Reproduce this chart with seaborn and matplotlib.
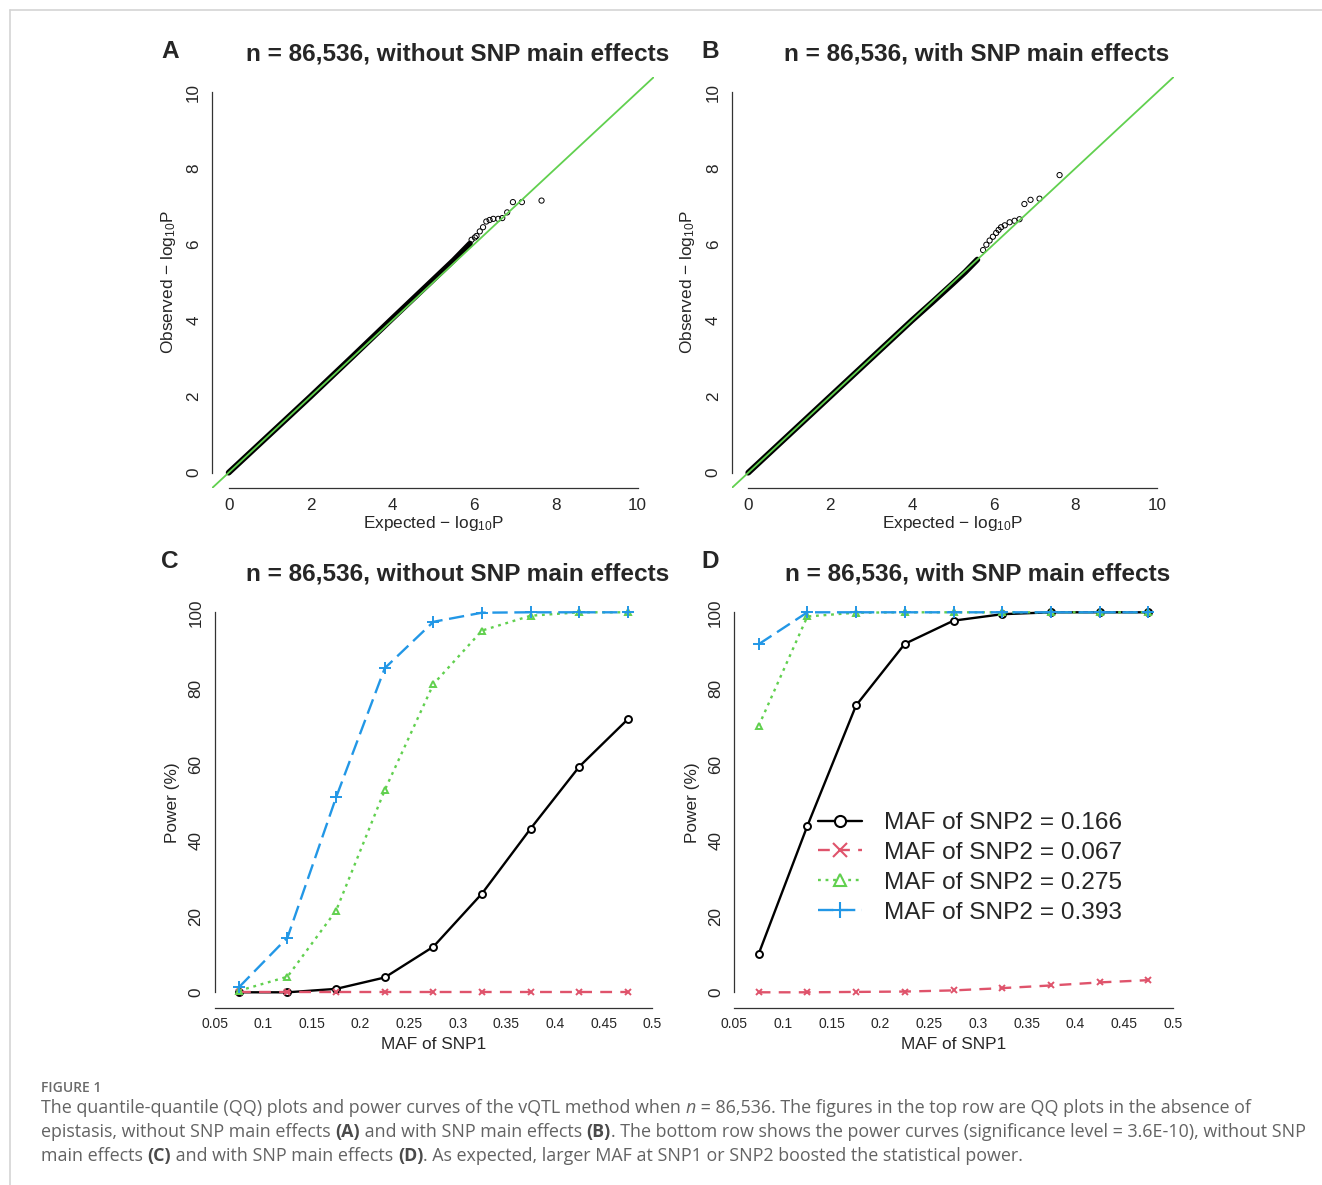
"""
plot.py
-------
QQ plots (A, B) and power curves (C, D) for the vQTL method, n = 86,536.
"""

import matplotlib
matplotlib.use("Agg")
import matplotlib.pyplot as plt
from matplotlib.lines import Line2D
from matplotlib.font_manager import FontProperties
import seaborn as sns

# ── Data ────────────────────────────────────────────────────────
# QQ plot A: dense body of the point cloud, then the sparse upper tail
qq_a_exp = [0.0, 1.0, 2.0, 3.0, 4.0, 4.5, 5.0, 5.5, 5.9]
qq_a_obs = [0.0, 1.0, 2.0, 3.02, 4.05, 4.56, 5.07, 5.58, 6.02]
qq_a_tail_exp = [5.94, 6.02, 6.06, 6.14, 6.22, 6.30, 6.38, 6.47, 6.59, 6.69, 6.81, 6.95, 7.17, 7.65]
qq_a_tail_obs = [6.12, 6.18, 6.22, 6.34, 6.45, 6.60, 6.64, 6.67, 6.67, 6.69, 6.84, 7.11, 7.11, 7.15]

# QQ plot B
qq_b_exp = [0.0, 1.0, 2.0, 3.0, 4.0, 4.5, 5.0, 5.3, 5.6]
qq_b_obs = [0.0, 1.0, 2.0, 3.0, 4.0, 4.48, 4.97, 5.27, 5.6]
qq_b_tail_exp = [5.74, 5.82, 5.90, 5.98, 6.06, 6.12, 6.18, 6.27, 6.39, 6.51, 6.63, 6.75, 6.90, 7.12, 7.61]
qq_b_tail_obs = [5.85, 5.99, 6.10, 6.20, 6.30, 6.38, 6.45, 6.50, 6.58, 6.62, 6.66, 7.06, 7.17, 7.20, 7.82]

# Power curves
maf_snp1 = [0.075, 0.125, 0.175, 0.225, 0.275, 0.325, 0.375, 0.425, 0.475]
snp2_labels = ["MAF of SNP2 = 0.166", "MAF of SNP2 = 0.067",
               "MAF of SNP2 = 0.275", "MAF of SNP2 = 0.393"]

power_c_166 = [0.0, 0.0, 0.9, 3.9, 12.0, 26.0, 43.1, 59.4, 71.9]
power_c_067 = [0.0, 0.0, 0.0, 0.0, 0.0, 0.0, 0.0, 0.0, 0.0]
power_c_275 = [0.4, 4.1, 21.5, 53.2, 81.1, 95.2, 99.1, 100.0, 100.0]
power_c_393 = [1.3, 14.4, 51.3, 85.3, 97.5, 99.9, 100.0, 100.0, 100.0]

power_d_166 = [10.1, 43.8, 75.5, 91.7, 97.8, 99.5, 100.0, 100.0, 100.0]
power_d_067 = [0.0, 0.0, 0.1, 0.2, 0.5, 1.1, 1.8, 2.6, 3.2]
power_d_275 = [70.1, 98.9, 99.9, 100.0, 100.0, 100.0, 100.0, 100.0, 100.0]
power_d_393 = [91.6, 100.0, 100.0, 100.0, 100.0, 100.0, 100.0, 100.0, 100.0]

maf_ticks = [0.05, 0.1, 0.15, 0.2, 0.25, 0.3, 0.35, 0.4, 0.45, 0.5]
maf_tick_labels = ["0.05", "0.1", "0.15", "0.2", "0.25", "0.3", "0.35", "0.4", "0.45", "0.5"]

# ── Style ───────────────────────────────────────────────────────
sns.set_style("white")
plt.rcParams["font.family"] = ["Liberation Sans", "DejaVu Sans"]
plt.rcParams["mathtext.fontset"] = "custom"
plt.rcParams["mathtext.rm"] = "Liberation Sans"
plt.rcParams["mathtext.default"] = "regular"

W, H = 1322, 1185
fig = plt.figure(figsize=(W / 100, H / 100), dpi=100)
fig.patch.set_facecolor("white")

AX_COL = "#333333"
COLORS = ["black", "#DF536B", "#61D04F", "#2297E6"]
MARKERS = ["o", "x", "^", "+"]
LINESTYLES = ["-", (0, (5, 3.5)), (0, (1.2, 2.0)), (0, (6.5, 2.8))]


def add_axes(left, right, top, bottom):
    return fig.add_axes([left / W, 1 - bottom / H, (right - left) / W, (bottom - top) / H])


def style_axes(ax, xb, yb, xfs, yfs):
    for s in ["top", "right"]:
        ax.spines[s].set_visible(False)
    for s in ["left", "bottom"]:
        ax.spines[s].set_color(AX_COL)
        ax.spines[s].set_linewidth(0.9)
    ax.spines["bottom"].set_bounds(*xb)
    ax.spines["left"].set_bounds(*yb)
    ax.tick_params(axis="both", direction="out", length=4.5, width=0.9, color=AX_COL)
    ax.tick_params(axis="x", labelsize=xfs, pad=2.5)
    ax.tick_params(axis="y", labelsize=yfs, pad=3.5, labelrotation=90)
    for lab in ax.get_yticklabels():
        lab.set_va("center")


# ── QQ plots (A, B) ─────────────────────────────────────────────
qq_sets = [
    (212.3, 654.0, qq_a_exp, qq_a_obs, qq_a_tail_exp, qq_a_tail_obs),
    (731.9, 1173.7, qq_b_exp, qq_b_obs, qq_b_tail_exp, qq_b_tail_obs),
]
for left, right, bx, by, tx, ty in qq_sets:
    ax = add_axes(left, right, 76.9, 487.9)
    sns.lineplot(x=bx, y=by, ax=ax, color="black", lw=4.2, sort=False,
                 solid_capstyle="round")
    sns.scatterplot(x=tx, y=ty, ax=ax, marker="o", s=14, facecolor="none",
                    edgecolor="black", linewidth=0.7)
    ax.axline((0, 0), slope=1, color="#61D04F", lw=1.3, zorder=5)
    ax.set_xlim(-0.4, 10.4)
    ax.set_ylim(-0.4, 10.4)
    ax.set_xticks(range(0, 11, 2))
    ax.set_yticks(range(0, 11, 2))
    style_axes(ax, (0, 10), (0, 10), 12.3, 12.3)
    ax.set_xlabel("Expected − log$_{10}$P", fontsize=12.4, labelpad=1)
    ax.set_ylabel("Observed − log$_{10}$P", fontsize=12.4, labelpad=6)

# ── Power curves (C, D) ─────────────────────────────────────────
power_sets = [
    (214.5, 652.3, [power_c_166, power_c_067, power_c_275, power_c_393]),
    (734.3, 1172.7, [power_d_166, power_d_067, power_d_275, power_d_393]),
]
for left, right, series in power_sets:
    ax = add_axes(left, right, 597.1, 1007.5)
    for vals, col, mk, ls in zip(series, COLORS, MARKERS, LINESTYLES):
        face = "white" if mk in ("o", "^") else col
        sns.lineplot(x=maf_snp1, y=vals, ax=ax, color=col, lw=1.7, linestyle=ls,
                     marker=mk, markersize=5 if mk != "+" else 8,
                     markerfacecolor=face, markeredgecolor=col, markeredgewidth=1.4)
    ax.set_xlim(0.05, 0.5)
    ax.set_ylim(-4, 104)
    ax.set_xticks(maf_ticks)
    ax.set_xticklabels(maf_tick_labels)
    ax.set_yticks(range(0, 101, 20))
    style_axes(ax, (0.05, 0.5), (0, 100), 10, 12.3)
    ax.set_xlabel("MAF of SNP1", fontsize=12.4, labelpad=4)
    ax.set_ylabel("Power (%)", fontsize=12.4, labelpad=6)

# Legend inside panel D
handles = []
leg_ms = [8, 10, 9, 12]
for col, mk, ls, ms in zip(COLORS, MARKERS, LINESTYLES, leg_ms):
    face = "white" if mk in ("o", "^") else col
    handles.append(Line2D([0], [0], color=col, lw=1.7, linestyle=ls, marker=mk,
                          markersize=ms, markerfacecolor=face, markeredgecolor=col,
                          markeredgewidth=1.5))
fig.legend(handles, snp2_labels, loc="upper left",
           bbox_to_anchor=(818 / W, 1 - 812 / H), frameon=False, fontsize=17.6,
           handlelength=1.8, handletextpad=0.9, labelspacing=0.32,
           borderpad=0, borderaxespad=0)

# ── Titles and panel letters ────────────────────────────────────
titles = ["n = 86,536, without SNP main effects", "n = 86,536, with SNP main effects",
          "n = 86,536, without SNP main effects", "n = 86,536, with SNP main effects"]
title_pos = [(457.5, 54), (977.0, 54), (457.5, 573.5), (977.5, 573.5)]
letters = ["A", "B", "C", "D"]
letter_pos = [(170, 52), (710, 52), (170, 561.5), (710, 561.5)]
for txt, (x, y) in zip(titles, title_pos):
    fig.text(x / W, 1 - y / H, txt, fontsize=17.6, fontweight="bold",
             ha="center", va="center")
for txt, (x, y) in zip(letters, letter_pos):
    fig.text(x / W, 1 - y / H, txt, fontsize=17.6, fontweight="bold",
             ha="center", va="center")

# ── Page frame and caption ──────────────────────────────────────
fig.add_artist(Line2D([9.5 / W, 1], [1 - 9.5 / H, 1 - 9.5 / H], color="#d4d4d4", lw=1.2))
fig.add_artist(Line2D([9.5 / W, 9.5 / W], [0, 1 - 9.5 / H], color="#d4d4d4", lw=1.2))

CAP_COL = "#636363"
CAP_FS = 12.9
fig.text(41 / W, 1 - 1088.5 / H, "FIGURE 1", family="Open Sans", fontweight="semibold",
         fontsize=10, color="#6a6a6a", ha="left", va="center")

caption_lines = [
    [("The quantile-quantile (QQ) plots and power curves of the vQTL method when ", "normal", "normal"),
     ("n", "normal", "italic"),
     (" = 86,536. The figures in the top row are QQ plots in the absence of", "normal", "normal")],
    [("epistasis, without SNP main effects ", "normal", "normal"), ("(A)", "bold", "normal"),
     (" and with SNP main effects ", "normal", "normal"), ("(B)", "bold", "normal"),
     (". The bottom row shows the power curves (significance level = 3.6E-10), without SNP",
      "normal", "normal")],
    [("main effects ", "normal", "normal"), ("(C)", "bold", "normal"),
     (" and with SNP main effects ", "normal", "normal"), ("(D)", "bold", "normal"),
     (". As expected, larger MAF at SNP1 or SNP2 boosted the statistical power.", "normal", "normal")],
]
caption_y = [1108, 1132, 1156]

renderer = fig.canvas.get_renderer()


def run_width(txt, prop):
    w1 = renderer.get_text_width_height_descent("|" + txt + "|", prop, ismath=False)[0]
    w0 = renderer.get_text_width_height_descent("||", prop, ismath=False)[0]
    return w1 - w0


for runs, y in zip(caption_lines, caption_y):
    x = 41
    for txt, weight, style in runs:
        prop = FontProperties(family="Open Sans", weight=weight, style=style, size=CAP_FS)
        col = "#4a4a4a" if weight == "bold" else CAP_COL
        fig.text(x / W, 1 - y / H, txt, fontproperties=prop, color=col,
                 ha="left", va="center")
        x += run_width(txt, prop)

plt.savefig("out.png", dpi=100)
